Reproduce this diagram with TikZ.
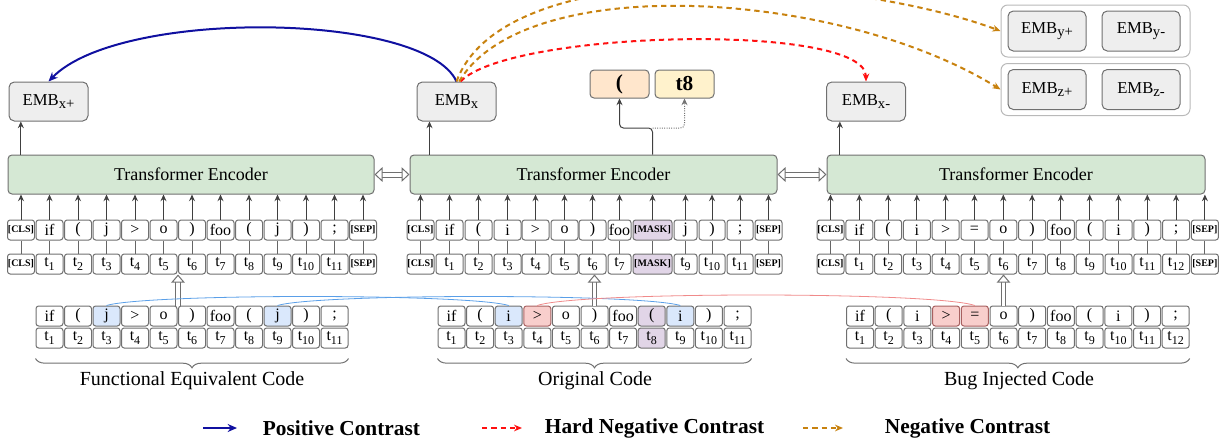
\documentclass[tikz,border=0pt]{standalone}
\usepackage{fontspec}
\setmainfont{Liberation Serif}
\usetikzlibrary{arrows.meta,decorations.pathreplacing}

\definecolor{encgreen}{HTML}{D5E8D4}
\definecolor{embgray}{HTML}{EEEEEE}
\definecolor{hlblue}{HTML}{DAE8FC}
\definecolor{hlred}{HTML}{F8CECC}
\definecolor{hlpurple}{HTML}{E1D5E7}
\definecolor{outorange}{HTML}{FFE6CC}
\definecolor{outyellow}{HTML}{FFF2CC}
\definecolor{edgegray}{HTML}{707070}
\definecolor{posblue}{HTML}{1010A0}
\definecolor{hardred}{HTML}{FF1010}
\definecolor{negorange}{HTML}{C8820F}
\definecolor{tieblue}{HTML}{5A9FE8}
\definecolor{tiered}{HTML}{F08A8A}

\newcommand{\lowsub}[2]{\raisebox{-0.45ex}{\fontsize{#1}{#1}\selectfont #2}}
\newcommand{\tokfont}{\fontsize{12}{13}\selectfont}
\newcommand{\spfont}{\fontsize{7.5}{8}\selectfont\bfseries}
\newcommand{\encfont}{\fontsize{13.5}{15}\selectfont}
\newcommand{\embfont}{\fontsize{12.5}{14}\selectfont}
\newcommand{\labfont}{\fontsize{15}{17}\selectfont}
\newcommand{\legfont}{\fontsize{16}{18}\selectfont\bfseries}
\newcommand{\outfont}{\fontsize{16}{17}\selectfont\bfseries}

\tikzset{every picture/.style={line width=0.75pt}}
\tikzset{
  tok/.style={draw=edgegray, fill=white, rounded corners=2pt, minimum width=20.25pt, minimum height=15pt, inner sep=0pt, font=\tokfont},
  tokw/.style={minimum width=#1*0.75pt},
  sptok/.style={tok, font=\spfont},
  tokblue/.style={tok, fill=hlblue},
  tokred/.style={tok, fill=hlred, draw=tiered!70!black},
  tokpurple/.style={tok, fill=hlpurple},
  encoder/.style={draw=edgegray, fill=encgreen, rounded corners=3pt, minimum height=29.25pt, inner sep=0pt, font=\encfont},
  emb/.style={draw=edgegray, fill=embgray, rounded corners=4pt, minimum width=59.25pt, minimum height=29.25pt, inner sep=0pt, font=\embfont},
  grp/.style={draw=gray!55, rounded corners=5pt, minimum width=141.75pt, minimum height=39pt},
  outtok/.style={draw=edgegray, rounded corners=3pt, minimum width=44.25pt, minimum height=21pt, inner sep=0pt, font=\outfont},
  uparr/.style={draw=black!75, -{Stealth[length=5pt,width=4.5pt]}},
  feed/.style={draw=black!60},
  hollow/.style={draw=edgegray, double=white, double distance=2.5pt, -{Triangle[open, fill=white, length=6pt, width=10pt]}},
  bothway/.style={draw=edgegray, double=white, double distance=3pt, {Triangle[open, fill=white, length=6pt, width=11pt]}-{Triangle[open, fill=white, length=6pt, width=11pt]}},
  tieline/.style={line width=0.6pt},
  codebrace/.style={draw=edgegray, decorate, decoration={brace, mirror, amplitude=7pt}},
  labtext/.style={font=\labfont},
  legtext/.style={font=\legfont, anchor=west},
  posarc/.style={draw=posblue, line width=1.5pt, -{Stealth[length=7pt,width=6pt]}},
  hardarc/.style={draw=hardred, line width=1.5pt, dash pattern=on 4pt off 3pt, -{Stealth[length=6pt,width=5pt]}},
  negarc/.style={draw=negorange, line width=1.5pt, dash pattern=on 4pt off 3pt, -{Stealth[length=6pt,width=5pt]}},
}

\begin{document}
\begin{tikzpicture}[x=0.75pt,y=0.75pt,yscale=-1,xscale=1]
\useasboundingbox (0,0) rectangle (1229,446);

%Shape: Encoders
\draw (191,174.5) node [encoder, minimum width=274.5pt] (encA) {Transformer Encoder};
\draw (593.5,174.5) node [encoder, minimum width=275.25pt] (encB) {Transformer Encoder};
\draw (1016,174.5) node [encoder, minimum width=283.5pt] (encC) {Transformer Encoder};
%Double arrows between encoders
\draw [bothway] (encA) -- (encB);
\draw [bothway] (encB) -- (encC);

%Shape: Embeddings
\draw (48.5,101.5) node [emb] (embxp) {EMB\lowsub{11}{x+}};
\draw (456.5,101.5) node [emb] (embx) {EMB\lowsub{11}{x}};
\draw (866,101.5) node [emb] (embxm) {EMB\lowsub{11}{x-}};
\coordinate (outA) at ([xshift=10pt]encA.north west);
\coordinate (outB) at ([xshift=15pt]encB.north west);
\coordinate (outC) at ([xshift=10pt]encC.north west);
\draw [uparr] (outA) -- (outA |- embxp.south);
\draw [uparr] (outB) -- (outB |- embx.south);
\draw [uparr] (outC) -- (outC |- embxm.south);

%Shape: masked token outputs
\draw (619.5,84) node [outtok, fill=outorange] (paren) {(};
\draw (684.5,84) node [outtok, fill=outyellow] (tee) {t8};
\coordinate (mkbend) at (652.5,128);
\draw [uparr, rounded corners=3pt] (mkbend |- encB.north) -- (mkbend) -| (paren.south);
\draw [uparr, draw=black!55, densely dotted, rounded corners=3pt] (mkbend) -| (tee.south);

%Shape: other embeddings
\draw (1095.5,31) node [grp] (grpY) {};
\draw (1095.5,89.5) node [grp] (grpZ) {};
\draw (1047,31) node [emb, minimum width=58.5pt, minimum height=30pt] (embyp) {EMB\lowsub{11}{y+}};
\draw (1141,31) node [emb, minimum width=58.5pt, minimum height=30pt] (embym) {EMB\lowsub{11}{y-}};
\draw (1047,89.5) node [emb, minimum width=58.5pt, minimum height=30pt] (embzp) {EMB\lowsub{11}{z+}};
\draw (1141,89.5) node [emb, minimum width=58.5pt, minimum height=30pt] (embzm) {EMB\lowsub{11}{z-}};

%Encoder A inputs
\draw (21,230) node [sptok] (inA-0) {[CLS]};
\draw (21,264) node [sptok] (posA-0) {[CLS]};
\foreach \lab [count=\i] in {if,{(},j,>,o,{)},foo,{(},j,{)},;} {
  \draw (21+28.5*\i,230) node [tok] (inA-\i) {\lab};
  \draw (21+28.5*\i,264) node [tok] (posA-\i) {t\lowsub{9}{\i}};
}
\draw (363,230) node [sptok] (inA-12) {[SEP]};
\draw (363,264) node [sptok] (posA-12) {[SEP]};
\foreach \i in {0,...,12} {
  \draw [feed] (posA-\i.north) -- (inA-\i.south);
  \draw [uparr] (inA-\i.north) -- (inA-\i.north |- encA.south);
}

%Encoder B inputs
\draw (420.5,230) node [sptok] (inB-0) {[CLS]};
\draw (420.5,264) node [sptok] (posB-0) {[CLS]};
\foreach \x/\w/\lab [count=\i] in {449.5/27/if,478.5/27/{(},507.5/27/i,535.5/27/>,564.5/27/o,592.5/27/{)},619.5/23/foo} {
  \draw (\x,230) node [tok, tokw=\w] (inB-\i) {\lab};
  \draw (\x,264) node [tok, tokw=\w] (posB-\i) {t\lowsub{9}{\i}};
}
\draw (652.5,230) node [sptok, tokpurple, font=\spfont, tokw=39] (inB-8) {[MASK]};
\draw (652.5,264) node [sptok, tokpurple, font=\spfont, tokw=39] (posB-8) {[MASK]};
\foreach \x/\w/\lab [count=\i from 9] in {685.5/23/j,712/26/{)},740/26/;} {
  \draw (\x,230) node [tok, tokw=\w] (inB-\i) {\lab};
  \draw (\x,264) node [tok, tokw=\w] (posB-\i) {t\lowsub{9}{\i}};
}
\draw (768.5,230) node [sptok] (inB-12) {[SEP]};
\draw (768.5,264) node [sptok] (posB-12) {[SEP]};
\foreach \i in {0,...,12} {
  \draw [feed] (posB-\i.north) -- (inB-\i.south);
  \draw [uparr] (inB-\i.north) -- (inB-\i.north |- encB.south);
}

%Encoder C inputs
\draw (830.5,230) node [sptok] (inC-0) {[CLS]};
\draw (830.5,264) node [sptok] (posC-0) {[CLS]};
\foreach \lab [count=\i] in {if,{(},i,>,=,o,{)},foo,{(},i,{)},;} {
  \draw (830.5+28.8*\i,230) node [tok] (inC-\i) {\lab};
  \draw (830.5+28.8*\i,264) node [tok] (posC-\i) {t\lowsub{9}{\i}};
}
\draw (1204.9,230) node [sptok] (inC-13) {[SEP]};
\draw (1204.9,264) node [sptok] (posC-13) {[SEP]};
\foreach \i in {0,...,13} {
  \draw [feed] (posC-\i.north) -- (inC-\i.south);
  \draw [uparr] (inC-\i.north) -- (inC-\i.north |- encC.south);
}

%Functional equivalent code
\foreach \lab/\sty [count=\i] in {if/tok,{(}/tok,j/tokblue,>/tok,o/tok,{)}/tok,foo/tok,{(}/tok,j/tokblue,{)}/tok,;/tok} {
  \draw (21+28.5*\i,316) node [\sty] (fec-\i) {\lab};
  \draw (21+28.5*\i,338) node [tok] (fep-\i) {t\lowsub{9}{\i}};
}
%Original code
\foreach \lab/\sty/\psty [count=\i] in {if/tok/tok,{(}/tok/tok,i/tokblue/tok,>/tokred/tok,o/tok/tok,{)}/tok/tok,foo/tok/tok,{(}/tokpurple/tokpurple,i/tokblue/tok,{)}/tok/tok,;/tok/tok} {
  \draw (422.9+28.6*\i,316) node [\sty] (orc-\i) {\lab};
  \draw (422.9+28.6*\i,338) node [\psty] (orp-\i) {t\lowsub{9}{\i}};
}
%Bug injected code
\foreach \lab/\sty [count=\i] in {if/tok,{(}/tok,i/tok,>/tokred,=/tokred,o/tok,{)}/tok,foo/tok,{(}/tok,i/tok,{)}/tok,;/tok} {
  \draw (831.3+28.7*\i,316) node [\sty] (bgc-\i) {\lab};
  \draw (831.3+28.7*\i,338) node [tok] (bgp-\i) {t\lowsub{9}{\i}};
}

%Hollow arrows into the encoders
\draw [hollow] (fec-6.north west) -- (posA-6.south west);
\draw [hollow] (orc-6.north) -- (orc-6.north |- posB-6.south);
\draw [hollow] (bgc-6.north) -- (bgc-6.north |- posC-6.south);

%Token ties
\draw [tieline, draw=tieblue] (fec-3.north) .. controls +(40,-12) and +(-40,-12) .. (orc-3.north);
\draw [tieline, draw=tieblue] (fec-9.north) .. controls +(40,-12) and +(-40,-12) .. (orc-9.north);
\draw [tieline, draw=tiered] (orc-4.north) .. controls +(40,-14) and +(-40,-14) .. (bgc-5.north);

%Braces and labels
\coordinate (brA1) at ([yshift=7.5pt]fep-1.south west);
\coordinate (brA2) at ([yshift=7.5pt]fep-11.south east);
\coordinate (brB1) at ([yshift=7.5pt]orp-1.south west);
\coordinate (brB2) at ([yshift=7.5pt]orp-11.south east);
\coordinate (brC1) at ([yshift=7.5pt]bgp-1.south west);
\coordinate (brC2) at ([yshift=7.5pt]bgp-12.south east);
\draw [codebrace] (brA1) -- (brA2);
\draw [codebrace] (brB1) -- (brB2);
\draw [codebrace] (brC1) -- (brC2);
\draw (192,381) node [labtext] (labA) {Functional Equivalent Code};
\draw (595,381) node [labtext] (labB) {Original Code};
\draw (1019,381) node [labtext] (labC) {Bug Injected Code};

%Contrast arcs
\draw [posarc] (embx.north) .. controls (425,12) and (120,8) .. (embxp.north);
\draw [hardarc] ([xshift=3pt]embx.north) .. controls (510,30) and (866,22) .. (embxm.north);
\draw [negarc] ([xshift=0pt]embx.north) .. controls (505,-50) and (850,-25) .. (grpY.west);
\draw [negarc] ([xshift=2pt]embx.north) .. controls (525,-30) and (840,-10) .. (grpZ.west);

%Legend
\coordinate (lgA1) at (203,428);
\coordinate (lgA2) at (237,428);
\coordinate (lgB1) at (482,428);
\coordinate (lgB2) at (522,428);
\coordinate (lgC1) at (803,428);
\coordinate (lgC2) at (843,428);
\draw [posarc] (lgA1) -- (lgA2);
\draw [hardarc] (lgB1) -- (lgB2);
\draw [negarc] (lgC1) -- (lgC2);
\draw (258,428) node [legtext] (lgPos) {Positive Contrast};
\draw (540,428) node [legtext] (lgHard) {Hard Negative Contrast};
\draw (880,428) node [legtext] (lgNeg) {Negative Contrast};

\end{tikzpicture}
\end{document}
